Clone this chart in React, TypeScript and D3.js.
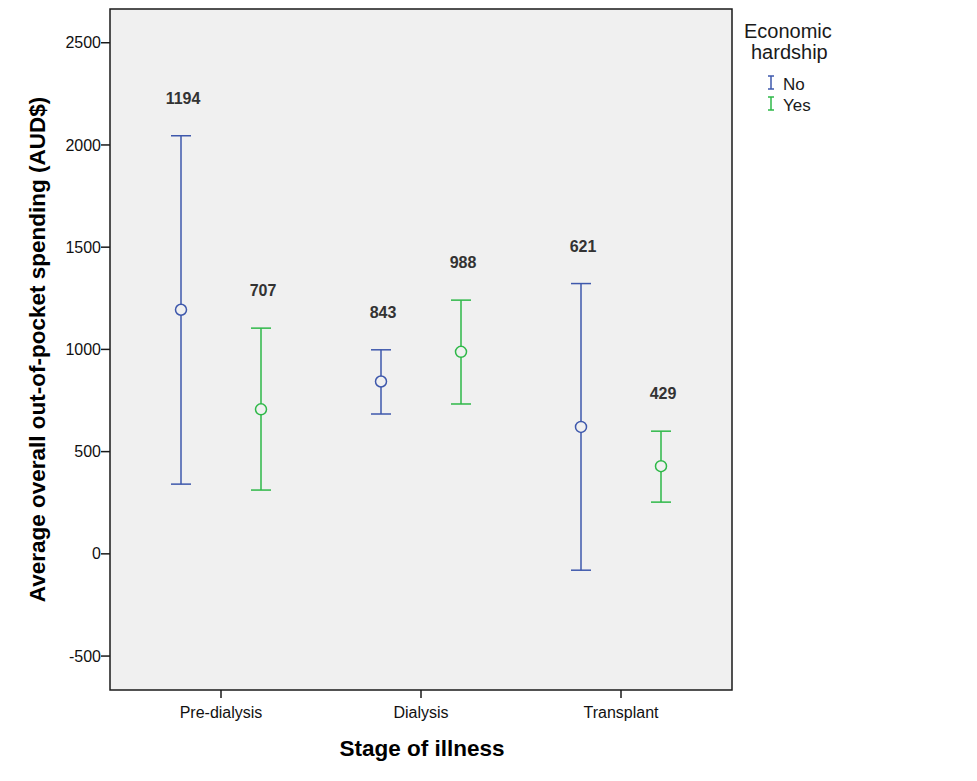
import React from "react";
import * as d3 from "d3";

const categories = ["Pre-dialysis", "Dialysis", "Transplant"];
const groups = ["No", "Yes"];
const means = [
  [1194, 707],
  [843, 988],
  [621, 429],
];
const lowers = [
  [341, 312],
  [684, 733],
  [-80, 253],
];
const uppers = [
  [2045, 1104],
  [998, 1241],
  [1322, 600],
];
const yTicks = [-500, 0, 500, 1000, 1500, 2000, 2500];
const colors = ["#3e58ac", "#2eb848"];

const W = 977;
const H = 781;
const plot = { left: 110, right: 732, top: 9, bottom: 690 };
const font = "Arial, 'Liberation Sans', sans-serif";

export default function App() {
  const y = d3.scaleLinear().domain([-666, 2665]).range([plot.bottom, plot.top]);
  const x = d3.scalePoint<string>().domain(categories).range([121, 721]).padding(0.5);
  const sub = d3.scalePoint<string>().domain(groups).range([-40, 40]);

  const capHalf = 10;
  return (
    <svg width={W} height={H} style={{ position: "absolute", left: 0, top: 0 }} fontFamily={font}>
      <rect x={0} y={0} width={W} height={H} fill="#ffffff" />
      <rect
        x={plot.left}
        y={plot.top}
        width={plot.right - plot.left}
        height={plot.bottom - plot.top}
        fill="#f0f0f0"
        stroke="#1a1a1a"
        strokeWidth={1.5}
      />
      {yTicks.map((t) => (
        <g key={t}>
          <line x1={plot.left - 9} x2={plot.left} y1={y(t)} y2={y(t)} stroke="#1a1a1a" strokeWidth={1.5} />
          <text x={plot.left - 9} y={y(t)} dy="0.35em" textAnchor="end" fontSize={16} fill="#111">
            {t}
          </text>
        </g>
      ))}
      {categories.map((c) => (
        <g key={c}>
          <line x1={x(c)!} x2={x(c)!} y1={plot.bottom} y2={plot.bottom + 8} stroke="#1a1a1a" strokeWidth={1.5} />
          <text x={x(c)!} y={plot.bottom + 28} textAnchor="middle" fontSize={16} fill="#111">
            {c}
          </text>
        </g>
      ))}
      {categories.map((c, i) =>
        groups.map((g, j) => {
          const cx = x(c)! + sub(g)!;
          const col = colors[j];
          return (
            <g key={c + g}>
              <line x1={cx} x2={cx} y1={y(uppers[i][j])} y2={y(lowers[i][j])} stroke={col} strokeWidth={1.5} />
              <line x1={cx - capHalf} x2={cx + capHalf} y1={y(uppers[i][j])} y2={y(uppers[i][j])} stroke={col} strokeWidth={1.5} />
              <line x1={cx - capHalf} x2={cx + capHalf} y1={y(lowers[i][j])} y2={y(lowers[i][j])} stroke={col} strokeWidth={1.5} />
              <circle cx={cx} cy={y(means[i][j])} r={5.5} fill="#f0f0f0" stroke={col} strokeWidth={1.5} />
              <text
                x={cx + 2}
                y={y(uppers[i][j]) - 32}
                textAnchor="middle"
                fontSize={16}
                fontWeight="bold"
                fill="#333333"
              >
                {means[i][j]}
              </text>
            </g>
          );
        })
      )}
      <text
        transform={`translate(45,${(plot.top + plot.bottom) / 2}) rotate(-90)`}
        textAnchor="middle"
        fontSize={22.5}
        fontWeight="bold"
        fill="#000"
      >
        Average overall out-of-pocket spending (AUD$)
      </text>
      <text x={422} y={756} textAnchor="middle" fontSize={22.5} fontWeight="bold" fill="#000">
        Stage of illness
      </text>
      <text x={744} y={38} fontSize={20} fill="#1a1a1a">Economic</text>
      <text x={751} y={59} fontSize={20} fill="#1a1a1a">hardship</text>
      {groups.map((g, j) => {
        const ly = 83 + j * 21;
        return (
          <g key={g}>
            <line x1={771} x2={771} y1={ly - 7} y2={ly + 6} stroke={colors[j]} strokeWidth={1.5} />
            <line x1={768} x2={774} y1={ly - 7} y2={ly - 7} stroke={colors[j]} strokeWidth={1.5} />
            <line x1={768} x2={774} y1={ly + 6} y2={ly + 6} stroke={colors[j]} strokeWidth={1.5} />
            <text x={783} y={ly + 1} dy="0.35em" fontSize={17} fill="#1a1a1a">
              {g}
            </text>
          </g>
        );
      })}
    </svg>
  );
}
